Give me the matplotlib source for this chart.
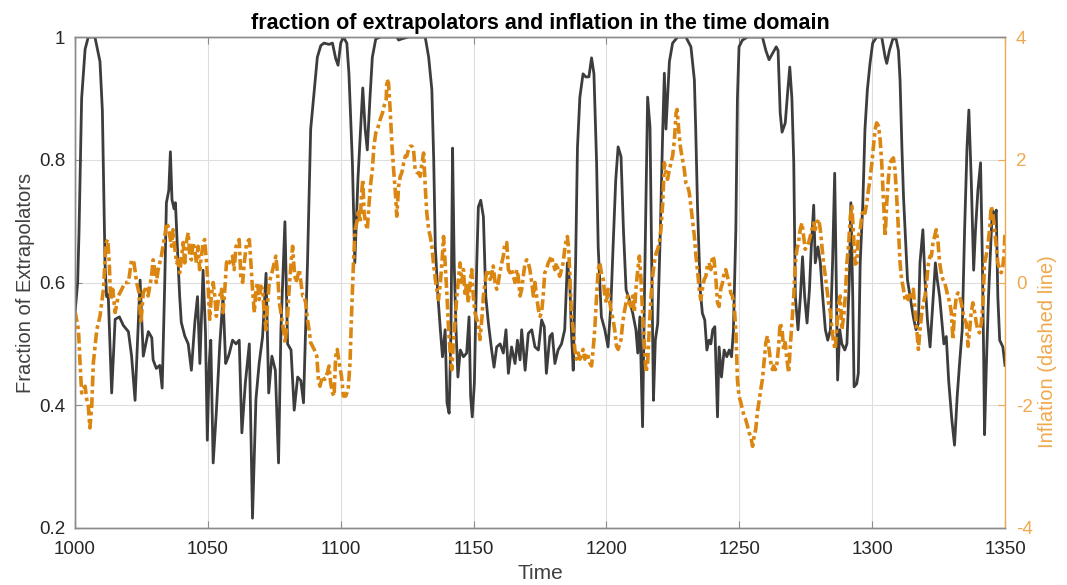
import matplotlib
matplotlib.use("Agg")
import matplotlib.pyplot as plt

plt.rcParams['font.family'] = ['Liberation Sans', 'DejaVu Sans']
plt.rcParams['axes.unicode_minus'] = False

# ---- fraction of extrapolators (solid dark line) ----
frac_t = [1000.0, 1001.0, 1001.5, 1002.5, 1003.8, 1005.0, 1007.5, 1009.4, 1010.3, 1011.3, 1011.9, 1012.5,
          1013.8, 1015.1, 1016.7, 1018.2, 1020.1, 1021.3, 1022.6, 1024.5, 1025.7, 1027.6, 1028.9,
          1029.4, 1030.6, 1031.9, 1032.8, 1033.8, 1034.4, 1035.3, 1035.9, 1036.5, 1037.3, 1037.8, 1038.5,
          1039.4, 1040.0, 1041.3, 1042.6, 1043.8, 1045.1, 1046.1, 1047.0, 1048.2, 1049.1, 1049.8, 1050.5,
          1051.1, 1052.0, 1053.2, 1054.5, 1055.7, 1056.7, 1057.6,
          1058.1, 1059.3, 1060.6, 1061.8, 1062.8, 1064.1, 1065.6, 1066.8, 1068.1, 1069.3, 1070.6, 1071.9,
          1072.9, 1074.1, 1075.4, 1076.6, 1077.5, 1079.0, 1080.0, 1081.3, 1082.5, 1083.8, 1085.0, 1086.0,
          1087.5, 1088.7, 1090.0, 1091.2, 1092.5, 1093.7, 1095.6, 1096.9, 1098.1, 1099.0, 1100.0, 1101.0,
          1102.3, 1103.1, 1104.4, 1105.3, 1106.5, 1107.5, 1108.3, 1109.2, 1110.0, 1111.0, 1111.9, 1113.2,
          1115.1, 1121.1, 1121.8, 1123.0, 1125.5, 1131.8, 1133.1, 1134.3, 1135.0, 1135.6, 1136.6, 1137.5,
          1138.3, 1139.3, 1140.0, 1140.8, 1141.5, 1142.1, 1142.7, 1143.4, 1144.1, 1145.0,
          1146.2, 1147.4, 1148.3, 1148.9, 1149.5, 1150.3, 1151.2, 1151.8, 1152.7, 1153.7, 1154.6, 1155.6,
          1156.8, 1157.7, 1158.7, 1160.0, 1161.2, 1162.2, 1163.1, 1164.3, 1165.6, 1166.5, 1167.5, 1168.1,
          1169.4, 1170.6, 1171.9, 1173.1, 1174.4,
          1175.6, 1176.6, 1177.4, 1178.7, 1179.6, 1180.6, 1181.8, 1183.1, 1184.3, 1185.3, 1186.2, 1186.8,
          1187.5, 1188.4, 1189.1, 1190.0, 1191.2, 1192.2, 1193.4, 1194.4, 1195.3, 1196.3, 1196.9, 1198.1,
          1199.4, 1200.6, 1201.7, 1202.5, 1203.5, 1204.4,
          1205.5, 1206.4, 1207.4, 1208.6, 1209.9, 1211.1, 1211.8, 1212.6, 1213.6, 1214.3, 1214.9, 1215.5,
          1216.4, 1217.2, 1217.7, 1218.4, 1219.3, 1220.3, 1221.2, 1221.8, 1222.4, 1223.0, 1223.7, 1224.9,
          1226.8, 1229.9, 1231.8, 1233.1, 1233.6,
          1234.3, 1235.3, 1236.1, 1237.0, 1237.8, 1238.6, 1239.3, 1240.0, 1240.8, 1241.8, 1242.4, 1243.3,
          1244.3, 1245.3, 1246.2, 1247.1, 1247.8, 1248.7, 1249.3, 1249.9, 1251.2, 1253.1, 1258.7, 1260.0,
          1261.2, 1262.5, 1263.9,
          1264.6, 1265.4, 1266.1, 1267.3, 1268.2, 1269.0, 1269.8, 1270.5, 1271.1, 1272.1, 1273.0, 1273.8,
          1274.6, 1275.5, 1276.4, 1277.1, 1278.0, 1278.6, 1279.6, 1280.5, 1281.4, 1282.4, 1283.3, 1284.3,
          1285.1, 1285.9, 1286.4, 1287.0, 1287.8, 1288.6, 1289.7, 1290.5, 1291.4, 1292.0, 1292.7, 1293.2,
          1294.2, 1294.8, 1295.5, 1296.5, 1297.3, 1298.2, 1299.2, 1300.2, 1301.7, 1303.6, 1304.9, 1305.5,
          1306.5, 1307.8, 1309.0, 1309.9, 1310.5, 1311.2, 1311.8, 1312.4, 1313.3, 1314.3, 1315.5, 1316.5,
          1317.4, 1318.0, 1319.1, 1319.9, 1320.8, 1321.8, 1322.6,
          1323.8, 1324.5, 1325.4, 1326.3, 1327.0, 1327.9, 1328.8, 1330.0, 1331.0, 1332.0, 1332.9, 1333.9,
          1334.8, 1335.7, 1336.4, 1337.3, 1338.2, 1338.9, 1339.8, 1340.8, 1341.5, 1342.0, 1342.3, 1343.0,
          1343.8, 1344.6, 1345.2, 1346.1, 1346.7, 1347.3, 1348.0, 1349.2, 1350.0]
frac_v = [0.55, 0.60, 0.68, 0.90, 0.98, 1.00, 1.00, 0.96, 0.88, 0.63, 0.577, 0.58,
          0.42, 0.54, 0.544, 0.53, 0.52, 0.48, 0.408, 0.604, 0.48, 0.52, 0.51,
          0.474, 0.46, 0.465, 0.428, 0.604, 0.73, 0.75, 0.813, 0.735, 0.72, 0.73, 0.66,
          0.577, 0.535, 0.513, 0.50, 0.457, 0.535, 0.577, 0.468, 0.62, 0.52, 0.343, 0.468,
          0.506, 0.306, 0.39, 0.50, 0.577, 0.468, 0.478,
          0.485, 0.506, 0.50, 0.506, 0.355, 0.436, 0.50, 0.216, 0.41, 0.468, 0.512, 0.615,
          0.42, 0.48, 0.457, 0.306, 0.523, 0.699, 0.50, 0.49, 0.392, 0.446, 0.44, 0.404,
          0.632, 0.85, 0.91, 0.967, 0.986, 0.99, 0.988, 0.99, 0.965, 0.954, 0.99, 1.0,
          0.99, 0.94, 0.795, 0.632, 0.77, 0.85, 0.917, 0.85, 0.816, 0.90, 0.967, 0.997,
          1.0, 1.0, 0.995, 0.997, 1.0, 1.0, 0.967, 0.914, 0.80, 0.658, 0.577, 0.523,
          0.479, 0.523, 0.404, 0.387, 0.523, 0.819, 0.632, 0.523, 0.446, 0.49,
          0.479, 0.485, 0.544, 0.414, 0.381, 0.436, 0.632, 0.723, 0.734, 0.707, 0.577, 0.533,
          0.49, 0.462, 0.495, 0.50, 0.485, 0.523, 0.452, 0.495, 0.468, 0.506, 0.474, 0.523,
          0.457, 0.517, 0.523, 0.495, 0.49,
          0.539, 0.528, 0.452, 0.512, 0.517, 0.468, 0.49, 0.50, 0.523, 0.632, 0.60, 0.523,
          0.457, 0.632, 0.82, 0.902, 0.94, 0.935, 0.935, 0.966, 0.94, 0.795, 0.658, 0.544,
          0.523, 0.495, 0.566, 0.658, 0.767, 0.821,
          0.805, 0.686, 0.588, 0.572, 0.55, 0.523, 0.485, 0.544, 0.365, 0.577, 0.74, 0.902,
          0.853, 0.577, 0.408, 0.506, 0.533, 0.686, 0.85, 0.941, 0.85, 0.90, 0.96, 0.99,
          1.0, 1.0, 0.984, 0.93, 0.85,
          0.72, 0.588, 0.55, 0.539, 0.49, 0.506, 0.50, 0.523, 0.528, 0.381, 0.495, 0.446,
          0.49, 0.479, 0.49, 0.479, 0.523, 0.686, 0.90, 0.984, 0.995, 1.0, 1.0, 0.978,
          0.963, 0.973, 0.984,
          0.978, 0.876, 0.845, 0.86, 0.91, 0.951, 0.90, 0.795, 0.577, 0.523, 0.577, 0.642,
          0.577, 0.534, 0.588, 0.658, 0.726, 0.632, 0.658, 0.632, 0.577, 0.523, 0.506, 0.523,
          0.632, 0.778, 0.632, 0.441, 0.523, 0.50, 0.49, 0.50, 0.604, 0.73, 0.577, 0.43,
          0.435, 0.452, 0.632, 0.73, 0.85, 0.914, 0.957, 0.99, 1.0, 1.0, 0.967, 0.957,
          0.978, 0.997, 0.997, 0.978, 0.93, 0.82, 0.74, 0.686, 0.604, 0.577, 0.544, 0.523,
          0.533, 0.632, 0.686, 0.604, 0.539, 0.495, 0.55,
          0.632, 0.605, 0.577, 0.534, 0.50, 0.512, 0.44, 0.376, 0.335, 0.414, 0.468, 0.523,
          0.686, 0.82, 0.881, 0.767, 0.62, 0.686, 0.75, 0.795, 0.632, 0.468, 0.352, 0.468,
          0.577, 0.658, 0.718, 0.707, 0.718, 0.577, 0.506, 0.495, 0.465]

# ---- inflation (dash-dot orange line) ----
infl_t = [1000.0, 1001.3, 1001.9, 1002.5, 1003.1, 1003.8, 1004.4, 1005.0, 1005.6, 1006.3, 1006.9, 1008.2,
          1009.4, 1010.7, 1011.7, 1012.3, 1012.9, 1013.4, 1014.2, 1015.1, 1016.3, 1017.6, 1018.8, 1020.1,
          1021.3, 1022.2, 1023.2, 1024.1, 1024.8, 1025.7, 1026.9,
          1027.5, 1028.8, 1029.4, 1030.0, 1030.6, 1031.3, 1031.9, 1032.5, 1033.1, 1033.8, 1034.4, 1035.0,
          1035.7, 1036.3, 1036.9, 1037.5, 1038.2, 1038.8, 1039.4, 1040.0, 1040.7, 1041.3, 1041.9, 1042.6,
          1043.2, 1043.8, 1044.4, 1045.1, 1045.7, 1046.3, 1046.9, 1047.6, 1048.2, 1048.8, 1049.5, 1050.1,
          1050.7, 1051.3, 1052.0, 1052.6, 1053.2, 1053.8, 1054.5, 1055.1, 1055.7, 1056.4, 1057.0, 1057.6,
          1058.1, 1059.3, 1059.9, 1060.6, 1061.8, 1062.4, 1063.1, 1063.7, 1064.6, 1065.6, 1066.2, 1066.8,
          1067.5, 1068.1, 1068.7, 1069.3, 1070.0, 1070.6, 1071.2, 1071.9, 1072.5, 1073.1, 1074.4, 1075.6,
          1076.3, 1076.9, 1078.1, 1079.1, 1080.0, 1080.6, 1081.3, 1081.9, 1082.5, 1083.1, 1083.8, 1084.4,
          1085.7,
          1086.2, 1086.8, 1087.5, 1088.1, 1088.7, 1090.0, 1091.0, 1091.6, 1092.2, 1093.1, 1094.0, 1095.0,
          1095.6, 1096.2, 1096.9, 1097.5, 1098.1, 1098.7, 1099.4, 1100.3, 1101.0, 1101.9, 1102.8, 1103.5,
          1104.1, 1104.8, 1105.4, 1106.0, 1106.7, 1107.3, 1107.8, 1108.3, 1108.8, 1109.4, 1110.0, 1110.7,
          1111.3, 1111.9, 1112.5, 1113.2, 1113.8, 1114.8, 1115.7, 1116.3, 1117.1,
          1117.4, 1118.0, 1118.6, 1119.3, 1119.9, 1120.5, 1121.1, 1121.8, 1122.4, 1123.0, 1123.7, 1124.3,
          1124.9, 1125.5, 1126.2, 1126.8, 1127.4, 1128.0, 1128.7, 1129.3, 1129.9, 1130.6, 1131.2, 1131.8,
          1132.4, 1133.1, 1133.7, 1134.3, 1134.9, 1135.6, 1136.2, 1136.8, 1137.5, 1138.1, 1138.7, 1139.3,
          1140.0, 1140.6, 1141.2, 1141.8, 1142.5, 1143.1, 1143.7, 1144.4,
          1144.9, 1145.5, 1146.2, 1146.8, 1147.4, 1148.0, 1148.7, 1149.3, 1149.9, 1150.5, 1151.2, 1151.8,
          1152.4, 1153.1, 1153.7, 1154.3, 1154.9, 1155.6, 1156.2, 1156.8, 1157.4, 1158.1, 1158.7, 1159.3,
          1159.9, 1160.6, 1161.2, 1161.8, 1162.5, 1163.1, 1163.7, 1164.3, 1165.0, 1165.6, 1166.2, 1166.8,
          1167.5, 1168.1, 1168.7, 1169.4, 1170.0, 1170.6, 1171.2, 1171.9, 1172.5, 1173.1, 1173.7, 1174.4,
          1175.0,
          1175.6, 1176.2, 1176.8, 1177.4, 1178.1, 1178.7, 1179.3, 1179.9, 1180.6, 1181.2, 1181.8, 1182.4,
          1183.1, 1183.7, 1184.3, 1184.9, 1185.3, 1185.8, 1186.3, 1186.8, 1187.5, 1188.1, 1188.7, 1189.4,
          1190.0, 1190.6, 1191.2, 1191.9, 1192.5, 1193.1, 1193.7, 1194.4, 1195.0, 1195.6, 1196.3, 1196.9,
          1197.5, 1198.1, 1198.8, 1199.4, 1200.0, 1200.6, 1201.3, 1201.9, 1202.5, 1203.1, 1203.8, 1204.4,
          1205.5, 1206.1, 1206.7, 1207.4, 1208.0, 1208.6, 1209.2, 1209.9, 1210.5, 1211.1, 1211.8, 1212.4,
          1213.0, 1213.6, 1214.3, 1214.9, 1215.5, 1216.1, 1216.8, 1217.4, 1218.0, 1218.7, 1219.3, 1219.9,
          1220.5, 1221.2, 1221.8, 1222.4, 1223.0, 1223.7, 1224.3, 1224.9, 1225.6, 1226.2, 1226.6, 1227.2,
          1227.8, 1228.4, 1229.3, 1229.9, 1230.6, 1231.2, 1231.8, 1232.5, 1233.1, 1233.7, 1234.5,
          1234.9, 1235.5, 1236.1, 1236.8, 1237.4, 1238.0, 1238.6, 1239.3, 1239.9, 1240.5, 1241.2, 1241.8,
          1242.4, 1243.0, 1243.7, 1244.3, 1244.9, 1245.5, 1246.2, 1246.8, 1247.4, 1248.1, 1248.7, 1249.3,
          1249.9, 1250.6, 1251.2, 1251.8, 1252.4, 1253.1, 1253.7, 1254.3, 1255.0, 1255.6, 1256.2, 1256.8,
          1257.5, 1258.1, 1258.7, 1259.3, 1260.0, 1260.6, 1261.2, 1261.9, 1262.5,
          1262.9, 1263.6, 1264.2, 1264.8, 1265.4, 1266.1, 1266.7, 1267.3, 1267.9, 1268.6, 1269.2, 1269.8,
          1270.5, 1271.1, 1271.7, 1272.3, 1272.9, 1273.6, 1274.2, 1274.8, 1275.5, 1276.1, 1276.7, 1277.3,
          1278.0, 1278.6, 1279.2, 1279.9, 1280.5, 1281.1, 1281.7, 1282.4, 1283.0, 1283.6, 1284.3, 1284.9,
          1285.5, 1286.1, 1286.8, 1287.4, 1288.0, 1288.6, 1289.3, 1289.9, 1290.5, 1291.2, 1291.8, 1292.4,
          1292.9, 1293.6, 1294.2, 1294.8, 1295.5, 1296.1, 1296.7, 1297.3, 1298.0, 1298.6, 1299.2, 1299.9,
          1300.5, 1301.1, 1301.7, 1302.4, 1303.0, 1303.6, 1304.2, 1304.9, 1305.5, 1306.1, 1306.7, 1307.4,
          1308.0, 1308.6, 1309.2, 1309.9, 1310.5, 1311.1, 1311.8, 1312.4, 1313.0, 1313.6, 1314.3, 1314.9,
          1315.5, 1316.2, 1316.8, 1317.4, 1318.0, 1318.7, 1319.3, 1319.9, 1320.5, 1321.2, 1321.8,
          1322.3, 1322.9, 1323.5, 1324.1, 1324.8, 1325.4, 1326.0, 1326.6, 1327.3, 1327.9, 1328.5, 1329.2,
          1329.8, 1330.4, 1331.0, 1331.7, 1332.3, 1332.9, 1333.5, 1334.2, 1334.8, 1335.4, 1336.1, 1336.7,
          1337.3, 1337.9, 1338.6, 1339.2, 1339.8, 1340.4, 1341.1, 1341.7, 1342.3, 1342.9, 1343.5, 1344.2,
          1344.8, 1345.4, 1346.1, 1346.7, 1347.3, 1348.0, 1348.6, 1349.2, 1349.6, 1350.0]
infl_v = [-0.47, -0.77, -1.31, -1.80, -1.74, -1.69, -1.90, -2.01, -2.37, -2.01, -1.31, -0.77,
          -0.55, -0.11, 0.65, 0.70, 0.32, -0.28, -0.11, -0.49, -0.22, -0.11, 0.0, 0.0,
          0.37, 0.32, 0.0, -0.17, -0.66, -0.17, -0.06,
          -0.22, 0.10, 0.37, 0.21, 0.0, 0.21, 0.32, 0.43, 0.59, 0.75, 0.97, 0.92,
          0.75, 0.59, 0.86, 0.59, 0.32, 0.37, 0.16, 0.37, 0.65, 0.32, 0.65, 0.81,
          0.43, 0.37, 0.65, 0.54, 0.32, 0.59, 0.21, 0.43, 0.65, 0.70, 0.32, -0.06,
          -0.60, -0.22, 0.0, -0.22, -0.55, -0.33, -0.22, -0.11, -0.49, -0.11, 0.32, 0.37,
          0.32, 0.43, 0.21, 0.59, 0.70, 0.10, 0.0, 0.32, 0.65, 0.70, 0.32, -0.11,
          -0.49, -0.11, 0.0, -0.28, -0.06, -0.11, -0.49, -0.77, -0.33, 0.0, 0.21, 0.43,
          0.10, -0.33, -0.66, -0.98, -0.55, -0.11, 0.32, 0.59, 0.21, 0.0, 0.10, 0.21,
          -0.22,
          -0.22, -0.33, -0.60, -0.77, -0.98, -1.09, -1.20, -1.58, -1.69, -1.53, -1.58, -1.47,
          -1.36, -1.63, -1.80, -1.85, -1.20, -1.09, -1.31, -1.53, -1.85, -1.85, -1.74, -1.31,
          -0.49, 0.32, 0.86, 0.97, 1.19, 0.97, 1.41, 1.68, 1.13, 0.97, 0.86, 1.30,
          1.62, 1.84, 2.22, 2.44, 2.49, 2.65, 2.76, 2.87, 2.98,
          3.31, 3.25, 2.82, 2.22, 1.84, 1.51, 1.08, 1.57, 1.73, 1.79, 1.95, 2.06,
          2.06, 2.17, 2.22, 2.22, 2.17, 1.84, 1.79, 1.79, 1.73, 1.95, 2.11, 1.57,
          1.13, 0.86, 0.75, 0.59, 0.32, 0.05, -0.11, -0.28, 0.0, 0.32, 0.75, 0.32,
          -0.22, -0.77, -1.15, -1.42, -0.93, -0.60, -0.22, 0.10,
          0.32, 0.0, 0.21, -0.22, 0.0, -0.33, 0.0, 0.21, -0.22, -0.49, -0.60, -0.66,
          -0.93, -0.60, -0.22, 0.0, 0.16, 0.21, 0.05, 0.10, 0.27, 0.0, -0.11, 0.0,
          0.16, 0.32, 0.43, 0.65, 0.65, 0.21, 0.16, 0.21, 0.10, 0.0, 0.21, 0.10,
          -0.22, -0.11, 0.10, 0.32, 0.37, 0.32, 0.21, 0.0, -0.22, 0.0, -0.22, -0.44,
          -0.55,
          -0.49, -0.22, 0.16, 0.21, 0.32, 0.37, 0.43, 0.32, 0.21, 0.32, 0.21, 0.10,
          0.21, 0.32, 0.54, 0.70, 0.75, 0.54, 0.05, -0.49, -0.77, -1.09, -1.25, -1.15,
          -1.25, -1.20, -1.09, -1.25, -1.15, -1.20, -1.31, -1.36, -1.09, -0.77, -0.22, 0.21,
          0.32, 0.16, 0.05, -0.22, -0.33, -0.11, -0.33, -0.49, -0.60, -0.77, -1.04, -1.09,
          -0.93, -0.66, -0.49, -0.33, -0.22, -0.33, -0.39, -0.22, -0.49, -0.11, 0.21, 0.43,
          0.05, -0.49, -1.04, -1.47, -1.31, -0.77, -0.22, 0.10, 0.32, 0.48, 0.54, 0.65,
          0.86, 1.30, 1.95, 1.79, 1.68, 1.84, 1.95, 2.06, 2.33, 2.76, 2.82, 2.49,
          2.22, 2.06, 1.84, 1.62, 1.57, 1.46, 1.24, 0.97, 0.75, 0.43, 0.10,
          -0.11, -0.28, -0.11, 0.05, 0.10, 0.27, 0.32, 0.21, 0.43, 0.37, 0.05, -0.33,
          -0.39, -0.11, 0.0, 0.16, 0.21, 0.10, 0.0, -0.17, -0.22, -0.39, -0.77, -1.58,
          -1.85, -1.96, -2.07, -2.18, -2.23, -2.34, -2.45, -2.50, -2.67, -2.50, -2.39, -2.12,
          -1.91, -1.74, -1.58, -1.31, -0.98, -0.87, -1.09, -1.31, -1.42,
          -1.36, -1.42, -1.31, -1.04, -0.66, -0.77, -1.09, -0.98, -1.25, -1.47, -1.04, -0.66,
          -0.22, 0.32, 0.54, 0.65, 0.86, 0.97, 0.75, 0.54, 0.59, 0.65, 0.75, 0.86,
          0.97, 0.86, 0.97, 1.03, 0.86, 0.59, 0.32, 0.10, -0.11, -0.33, -0.49, -0.77,
          -0.98, -1.09, -0.66, -0.33, -0.22, -0.77, -0.55, -0.22, 0.32, 0.65, 1.08, 1.24,
          0.86, 0.30, 0.32, 0.75, 0.86, 1.08, 1.19, 1.13, 1.30, 1.51, 1.68, 1.95,
          2.22, 2.49, 2.60, 2.55, 2.33, 1.95, 1.41, 0.75, 1.30, 1.68, 1.95, 2.00,
          2.03, 1.84, 1.41, 0.86, 0.32, 0.05, -0.11, -0.28, -0.22, -0.28, -0.17, -0.22,
          -0.11, -0.49, -0.77, -1.09, -0.77, -0.49, -0.33, -0.22, 0.0, 0.32, 0.43,
          0.43, 0.65, 0.75, 0.86, 0.65, 0.32, 0.16, 0.05, 0.0, -0.11, -0.22, -0.33,
          -0.49, -0.93, -0.49, -0.22, -0.17, -0.22, -0.33, -0.49, -0.60, -0.66, -1.04, -0.77,
          -0.49, -0.33, -0.49, -0.66, -0.77, -0.82, -0.66, -0.33, 0.32, 0.43, 0.59, 0.86,
          1.24, 1.13, 0.86, 0.59, 0.32, 0.21, 0.16, 0.27, 0.43, 0.80]

x_ticks = [1000, 1050, 1100, 1150, 1200, 1250, 1300, 1350]
left_ticks = [0.2, 0.4, 0.6, 0.8, 1.0]
left_labels = ['0.2', '0.4', '0.6', '0.8', '1']
right_ticks = [-4, -2, 0, 2, 4]

DARK = '#3d3d3d'
ORANGE_LINE = '#DB8610'
ORANGE_AXIS = '#EFA94F'
SPINE = '#8c8c8c'
TXT = '#262626'

fig = plt.figure(figsize=(10.67, 5.85), dpi=100)
ax = fig.add_axes([75 / 1067, 57 / 585, 930 / 1067, 491 / 585])
ax2 = ax.twinx()

ax.plot(frac_t, frac_v, color=DARK, lw=2.0, solid_joinstyle='round')
ax2.plot(infl_t, infl_v, color=ORANGE_LINE, lw=2.6, linestyle=(0, (3.0, 1.0, 1.0, 1.0)))

ax.set_xlim(1000, 1350)
ax.set_ylim(0.2, 1.0)
ax2.set_ylim(-4, 4)
ax.set_xticks(x_ticks)
ax.set_yticks(left_ticks)
ax.set_yticklabels(left_labels)
ax2.set_yticks(right_ticks)

ax.grid(True, color='#dedede', lw=0.8)
ax.set_axisbelow(True)

for sp in ['left', 'top', 'bottom']:
    ax.spines[sp].set_color(SPINE)
    ax2.spines[sp].set_color(SPINE)
ax.spines['right'].set_visible(False)
ax2.spines['right'].set_color(ORANGE_AXIS)
for sp in ax.spines.values():
    sp.set_linewidth(1.0)
for sp in ax2.spines.values():
    sp.set_linewidth(1.0)

ax.tick_params(axis='both', direction='in', length=5, width=0.8, color=SPINE,
               labelsize=13.5, labelcolor=TXT, top=True, right=False)
ax.tick_params(axis='x', pad=9)
ax.tick_params(axis='y', pad=7)
ax2.tick_params(axis='y', direction='in', length=5, width=0.8, color=ORANGE_AXIS,
                labelsize=13.5, labelcolor=ORANGE_AXIS, pad=8)

ax.set_xlabel('Time', fontsize=15, color='#404040', labelpad=5)
ax.set_ylabel('Fraction of Extrapolators', fontsize=14.5, color='#404040', labelpad=3)
ax2.set_ylabel('Inflation (dashed line)', fontsize=14.5, color=ORANGE_AXIS)
ax2.yaxis.set_label_coords(1.036, 0.36)
ax.set_title('fraction of extrapolators and inflation in the time domain',
             fontsize=15.5, fontweight='bold', color='black', pad=6)

fig.savefig('out.png', dpi=100)
